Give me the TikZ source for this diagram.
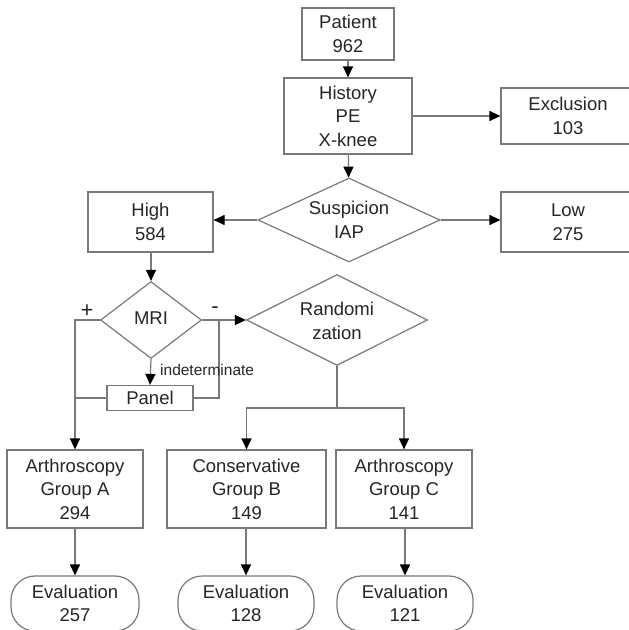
\documentclass[tikz,border=0pt]{standalone}
\usepackage{fontspec}
\setmainfont{Liberation Sans}
\usetikzlibrary{shapes.geometric,arrows.meta}
\definecolor{linegray}{HTML}{7A7A7A}
\definecolor{txt}{HTML}{262626}
\tikzset{
  every node/.style={font=\fontsize{18.5}{23.5}\selectfont, text=txt, align=center, inner sep=0pt},
  box/.style={draw=linegray, line width=1.2pt, rectangle},
  dia/.style={draw=linegray, line width=1.2pt, diamond},
  evalbox/.style={draw=linegray, line width=1.2pt, rectangle, rounded corners=24pt},
  conn/.style={draw=linegray, line width=1.2pt},
  arr/.style={conn, -{Triangle[length=11pt,width=10pt,black]}},
  smalllab/.style={font=\fontsize{15.5}{18}\selectfont},
  signlab/.style={font=\fontsize{22}{22}\selectfont}
}
\begin{document}
\begin{tikzpicture}[x=1pt,y=-1pt]
\useasboundingbox (0,0) rectangle (629,630);
\clip (0,0) rectangle (629,630);
\fill[white] (0,0) rectangle (629,630);

\node[box, minimum width=92, minimum height=52] (patient) at (348,34) {Patient\\962};
\node[box, minimum width=128, minimum height=76] (history) at (348,116) {History\\PE\\X-knee};
\node[box, minimum width=134, minimum height=56] (excl) at (568,116) {Exclusion\\103};
\node[dia, minimum width=182, minimum height=84] (susp) at (349,220) {};
\node (susptxt) at (349,220) {Suspicion\\IAP};
\node[box, minimum width=125, minimum height=60] (high) at (150.5,222) {High\\584};
\node[box, minimum width=134, minimum height=60] (low) at (568,222) {Low\\275};
\node[dia, minimum width=101, minimum height=77] (mri) at (151,320) {};
\node (mritxt) at (151,318) {MRI};
\node[dia, minimum width=181, minimum height=91] (rand) at (337,320) {};
\node (randtxt) at (337,321) {Randomi\\zation};
\node[box, minimum width=86, minimum height=25] (panel) at (150,398) {Panel};
\node[box, minimum width=136, minimum height=78] (ga) at (75,489) {Arthroscopy\\Group A\\294};
\node[box, minimum width=159, minimum height=78] (gb) at (246.5,489) {Conservative\\Group B\\149};
\node[box, minimum width=136, minimum height=78] (gc) at (404,489) {Arthroscopy\\Group C\\141};
\node[evalbox, minimum width=128, minimum height=55] (ea) at (75,603.5) {Evaluation\\257};
\node[evalbox, minimum width=136, minimum height=55] (eb) at (246,603.5) {Evaluation\\128};
\node[evalbox, minimum width=136, minimum height=55] (ec) at (405,603.5) {Evaluation\\121};

\coordinate (split) at (337,408);
\coordinate (jr) at (219,320);

\draw[arr] (patient) -- (history);
\draw[arr] (history) -- (excl);
\draw[arr] (history) -- (susp);
\draw[arr] (susp.west) -- (susp.west -| high.east);
\draw[arr] (susp.east) -- (susp.east -| low.west);
\draw[arr] (high.south -| mri.north) -- (mri.north);
\draw[arr] (mri.east) -- (rand.west);
\draw[arr] (mri.west) -| (ga.north);
\draw[arr] (mri.south) -- (panel.north);
\draw[conn] (panel.west) -- (panel.west -| ga.north);
\draw[conn] (panel.east) -| (jr);
\draw[conn] (rand.south) -- (split);
\draw[arr] (split) -| (gb.north);
\draw[arr] (split) -| (gc.north);
\draw[arr] (ga) -- (ea);
\draw[arr] (gb.south -| eb.north) -- (eb.north);
\draw[arr] (gc.south -| ec.north) -- (ec.north);

\node[signlab] (plus) at (87,311) {+};
\node[signlab] (minus) at (215,310) {-};
\node[smalllab, anchor=west] (indet) at (160,370) {indeterminate};
\end{tikzpicture}
\end{document}
